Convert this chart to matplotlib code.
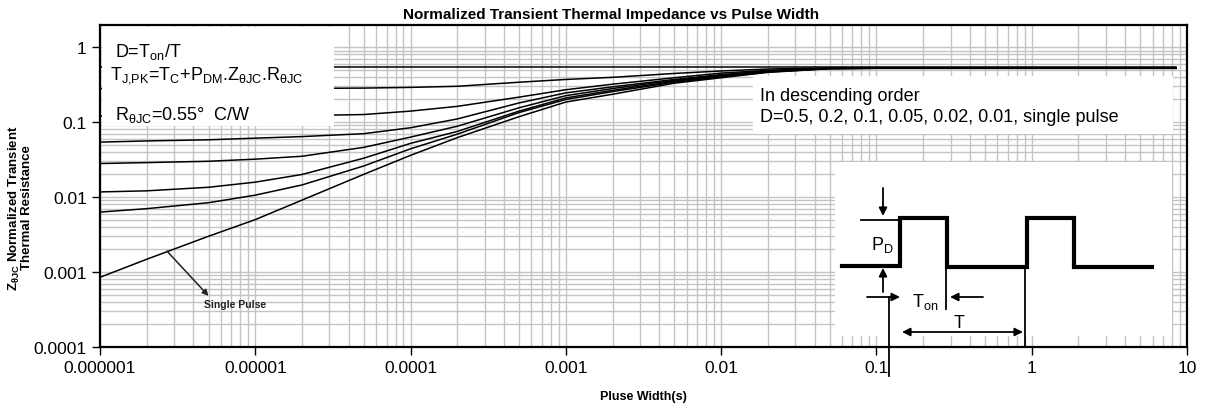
import matplotlib
matplotlib.use("Agg")
import matplotlib.pyplot as plt
from matplotlib.patches import Rectangle
from matplotlib.ticker import FixedLocator, FixedFormatter, LogLocator, NullFormatter

plt.rcParams["font.family"] = ["Liberation Sans", "DejaVu Sans"]
plt.rcParams["mathtext.fontset"] = "custom"
plt.rcParams["mathtext.rm"] = "Liberation Sans"
plt.rcParams["mathtext.it"] = "Liberation Sans:italic"
plt.rcParams["mathtext.bf"] = "Liberation Sans:bold"

# 数据：脉冲宽度 (s) 与各占空比下的归一化热阻
pulse_width = [1e-6, 2e-6, 5e-6, 1e-5, 2e-5, 5e-5, 1e-4, 2e-4, 5e-4, 1e-3,
               2e-3, 5e-3, 1e-2, 2e-2, 5e-2, 0.1, 1, 8.5]
z_d05 = [0.55] * 18
z_d02 = [0.28, 0.28, 0.28, 0.28, 0.281, 0.284, 0.29, 0.30, 0.34, 0.37,
         0.395, 0.445, 0.48, 0.51, 0.527, 0.53, 0.53, 0.53]
z_d01 = [0.12, 0.12, 0.12, 0.121, 0.122, 0.126, 0.14, 0.162, 0.215, 0.27,
         0.32, 0.39, 0.45, 0.49, 0.522, 0.527, 0.527, 0.527]
z_d005 = [0.054, 0.056, 0.058, 0.061, 0.064, 0.070, 0.084, 0.11, 0.18, 0.245,
          0.295, 0.37, 0.43, 0.48, 0.52, 0.525, 0.525, 0.525]
z_d002 = [0.028, 0.0288, 0.030, 0.032, 0.035, 0.046, 0.063, 0.088, 0.155, 0.225,
          0.28, 0.36, 0.42, 0.475, 0.52, 0.523, 0.523, 0.523]
z_d001 = [0.0117, 0.0121, 0.0135, 0.0158, 0.020, 0.033, 0.052, 0.075, 0.14, 0.21,
          0.265, 0.35, 0.41, 0.47, 0.518, 0.522, 0.522, 0.522]
z_d0005 = [0.0063, 0.0070, 0.0084, 0.0106, 0.0145, 0.026, 0.044, 0.069, 0.134, 0.20,
           0.255, 0.34, 0.40, 0.465, 0.515, 0.52, 0.52, 0.52]
z_single = [0.00085, 0.00148, 0.0030, 0.0050, 0.0091, 0.0201, 0.036, 0.062, 0.118, 0.185,
            0.235, 0.33, 0.39, 0.46, 0.515, 0.522, 0.522, 0.522]
curves = [z_d05, z_d02, z_d01, z_d005, z_d002, z_d001, z_d0005, z_single]

x_ticks = [1e-6, 1e-5, 1e-4, 1e-3, 1e-2, 0.1, 1, 10]
x_labels = ["0.000001", "0.00001", "0.0001", "0.001", "0.01", "0.1", "1", "10"]
y_ticks = [1e-4, 1e-3, 1e-2, 0.1, 1]
y_labels = ["0.0001", "0.001", "0.01", "0.1", "1"]

W, H = 1205, 410
fig = plt.figure(figsize=(W / 100, H / 100), dpi=100)
ax = fig.add_axes([100 / W, 1 - 348 / H, 1087 / W, 322 / H])

for z in curves:
    ax.plot(pulse_width, z, color="black", lw=1.1, zorder=3)

ax.set_xscale("log")
ax.set_yscale("log")
ax.set_xlim(1e-6, 10)
ax.set_ylim(1e-4, 1.97)

ax.xaxis.set_major_locator(FixedLocator(x_ticks))
ax.xaxis.set_major_formatter(FixedFormatter(x_labels))
ax.yaxis.set_major_locator(FixedLocator(y_ticks))
ax.yaxis.set_major_formatter(FixedFormatter(y_labels))
ax.xaxis.set_minor_locator(LogLocator(base=10, subs=range(2, 10), numticks=20))
ax.yaxis.set_minor_locator(LogLocator(base=10, subs=range(2, 10), numticks=20))
ax.xaxis.set_minor_formatter(NullFormatter())
ax.yaxis.set_minor_formatter(NullFormatter())
ax.tick_params(which="major", length=6, width=1, labelsize=12.5, direction="out")
ax.tick_params(which="minor", length=0)

ax.grid(True, which="both", color="#c4c4c4", lw=1.0, zorder=0)
for s in ax.spines.values():
    s.set_linewidth(1.6)
    s.set_color("black")

ax.annotate("", xy=(5.0e-6, 0.00048), xytext=(2.7e-6, 0.0019),
            arrowprops=dict(arrowstyle="-|>", color="#222222", lw=1.1,
                            mutation_scale=9, shrinkA=0, shrinkB=0))
ax.text(7.4e-6, 0.00037, "Single Pulse", fontsize=7.5, fontweight="bold",
        ha="center", va="center", color="#222222")

fig.text(611 / W, 1 - 15 / H, "Normalized Transient Thermal Impedance vs Pulse Width",
         fontsize=11, fontweight="bold", ha="center", va="center")
fig.text(643 / W, 1 - 397 / H, "Pluse Width(s)", fontsize=9, fontweight="bold",
         ha="center", va="center")
fig.text(20 / W, 1 - 208 / H,
         "Z$_{\\mathbf{θJC}}$ Normalized Transient\nThermal Resistance",
         fontsize=9.5, fontweight="bold", rotation=90, ha="center", va="center",
         linespacing=0.95)

# 覆盖层：白色文字框和脉冲示意图（像素坐标）
ov = fig.add_axes([0, 0, 1, 1], zorder=5)
ov.set_xlim(0, W)
ov.set_ylim(H, 0)
ov.axis("off")
ov.patch.set_alpha(0)

ov.add_patch(Rectangle((101.5, 27.5), 232, 99, color="white", lw=0))
ov.add_patch(Rectangle((753, 77), 420, 58, color="white", lw=0))
ov.add_patch(Rectangle((835, 163), 337, 174, color="white", lw=0))

ov.text(115, 57, "D=T$_{\\mathrm{on}}$/T", fontsize=13, va="baseline")
ov.text(110, 80, "T$_{\\mathrm{J{,}PK}}$=T$_{\\mathrm{C}}$+P$_{\\mathrm{DM}}$.Z$_{\\mathrm{θJC}}$.R$_{\\mathrm{θJC}}$",
        fontsize=13, va="baseline")
ov.text(115, 120, "R$_{\\mathrm{θJC}}$=0.55°  C/W", fontsize=13, va="baseline")

ov.text(760, 101, "In descending order", fontsize=13, va="baseline")
ov.text(760, 122, "D=0.5, 0.2, 0.1, 0.05, 0.02, 0.01, single pulse", fontsize=13, va="baseline")

# 脉冲波形
px = [842, 900, 900, 947, 947, 1027, 1027, 1074, 1074, 1152]
py = [267, 267, 219, 219, 268, 268, 219, 219, 268, 268]
ov.plot(px, py, color="black", lw=3, solid_joinstyle="miter")
ov.plot([861, 900], [221, 221], color="black", lw=1.3)
arr = dict(arrowstyle="-|>", color="black", lw=1.3, mutation_scale=12, shrinkA=0, shrinkB=0)
ov.annotate("", xy=(883, 217), xytext=(883, 189), arrowprops=arr)
ov.annotate("", xy=(883, 269), xytext=(883, 293), arrowprops=arr)
ov.annotate("", xy=(900, 298), xytext=(867, 298), arrowprops=arr)
ov.annotate("", xy=(950, 298), xytext=(983, 298), arrowprops=arr)
ov.annotate("", xy=(1023, 333), xytext=(902, 333),
            arrowprops=dict(arrowstyle="<|-|>", color="black", lw=1.3, mutation_scale=12,
                            shrinkA=0, shrinkB=0))
ov.plot([889, 889], [298, 377], color="black", lw=1.3)
ov.plot([946, 946], [268, 310], color="black", lw=1.3)
ov.plot([1025, 1025], [268, 347], color="black", lw=1.3)
ov.text(871, 250, "P$_{\\mathrm{D}}$", fontsize=13, va="baseline")
ov.text(912, 307, "T$_{\\mathrm{on}}$", fontsize=13, va="baseline")
ov.text(954, 328, "T", fontsize=13, va="baseline")

fig.savefig("out.png", dpi=100)
